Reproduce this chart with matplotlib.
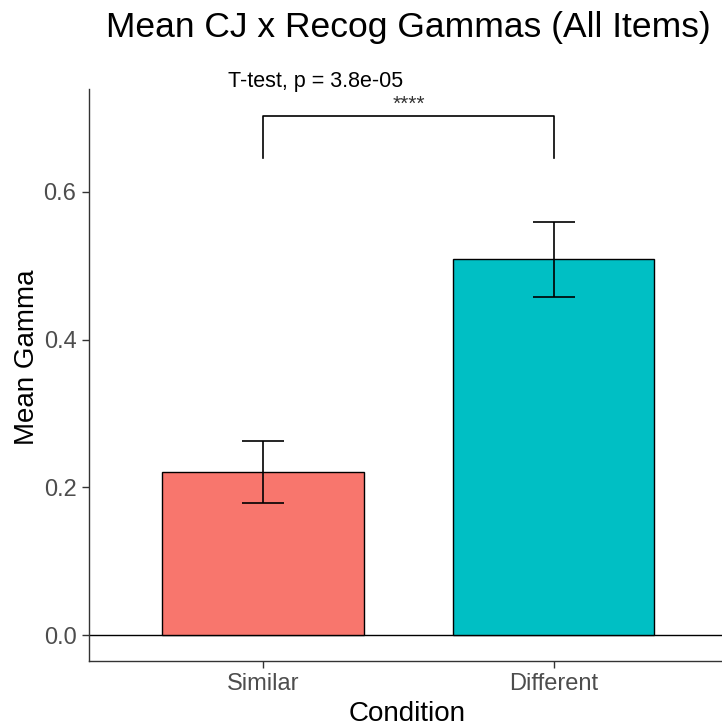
import matplotlib
matplotlib.use("Agg")
import matplotlib.pyplot as plt

conditions = ["Similar", "Different"]
mean_gamma = [0.221, 0.509]
err_low = [0.179, 0.458]
err_high = [0.263, 0.559]
bar_colors = ["#F8766D", "#00BFC4"]
yticks = [0.0, 0.2, 0.4, 0.6]

plt.rcParams["font.family"] = ["Liberation Sans", "DejaVu Sans"]

fig = plt.figure(figsize=(7.22, 7.28), dpi=100)
W, H = 722, 728
ax = fig.add_axes([89 / W, 1 - 661 / H, (722 - 89) / W, (661 - 89) / H])

x = [1, 2]
ax.bar(x, mean_gamma, width=0.695, color=bar_colors, edgecolor="black", linewidth=1.0, zorder=2)
yerr = [[m - lo for m, lo in zip(mean_gamma, err_low)],
        [hi - m for m, hi in zip(mean_gamma, err_high)]]
ax.errorbar(x, mean_gamma, yerr=yerr, fmt="none", ecolor="black", elinewidth=1.2,
            capsize=15, capthick=1.2, zorder=3)
ax.axhline(0, color="black", linewidth=1.0, zorder=1)

# significance bracket
ax.plot([1, 1, 2, 2], [0.646, 0.702, 0.702, 0.646], color="black", linewidth=1.2, clip_on=False)
ax.text(0.88, 0.750, "T-test, p = 3.8e-05", fontsize=15.5, ha="left", va="center", clip_on=False)
ax.text(1.5, 0.719, "****", fontsize=15, ha="center", va="center", color="#333333", clip_on=False)

ax.set_xlim(0.4, 2.58)
ax.set_ylim(-0.0352, 0.7392)
ax.set_xticks(x)
ax.set_xticklabels(conditions)
ax.set_yticks(yticks)
ax.set_yticklabels([f"{v:.1f}" for v in yticks])
ax.tick_params(colors="#333333", labelcolor="#4D4D4D", labelsize=17, length=5, width=1, pad=4)

for s in ["top", "right"]:
    ax.spines[s].set_visible(False)
for s in ["left", "bottom"]:
    ax.spines[s].set_color("#333333")
    ax.spines[s].set_linewidth(1.0)

fig.text(407 / W, 1 - 714 / H, "Condition", fontsize=20, ha="center", va="center")
fig.text(27 / W, 1 - 357 / H, "Mean Gamma", fontsize=20, ha="center", va="center", rotation=90)
fig.text(408 / W, 1 - 27 / H, "Mean CJ x Recog Gammas (All Items)", fontsize=25.5,
         ha="center", va="center")

fig.savefig("out.png", dpi=100)
